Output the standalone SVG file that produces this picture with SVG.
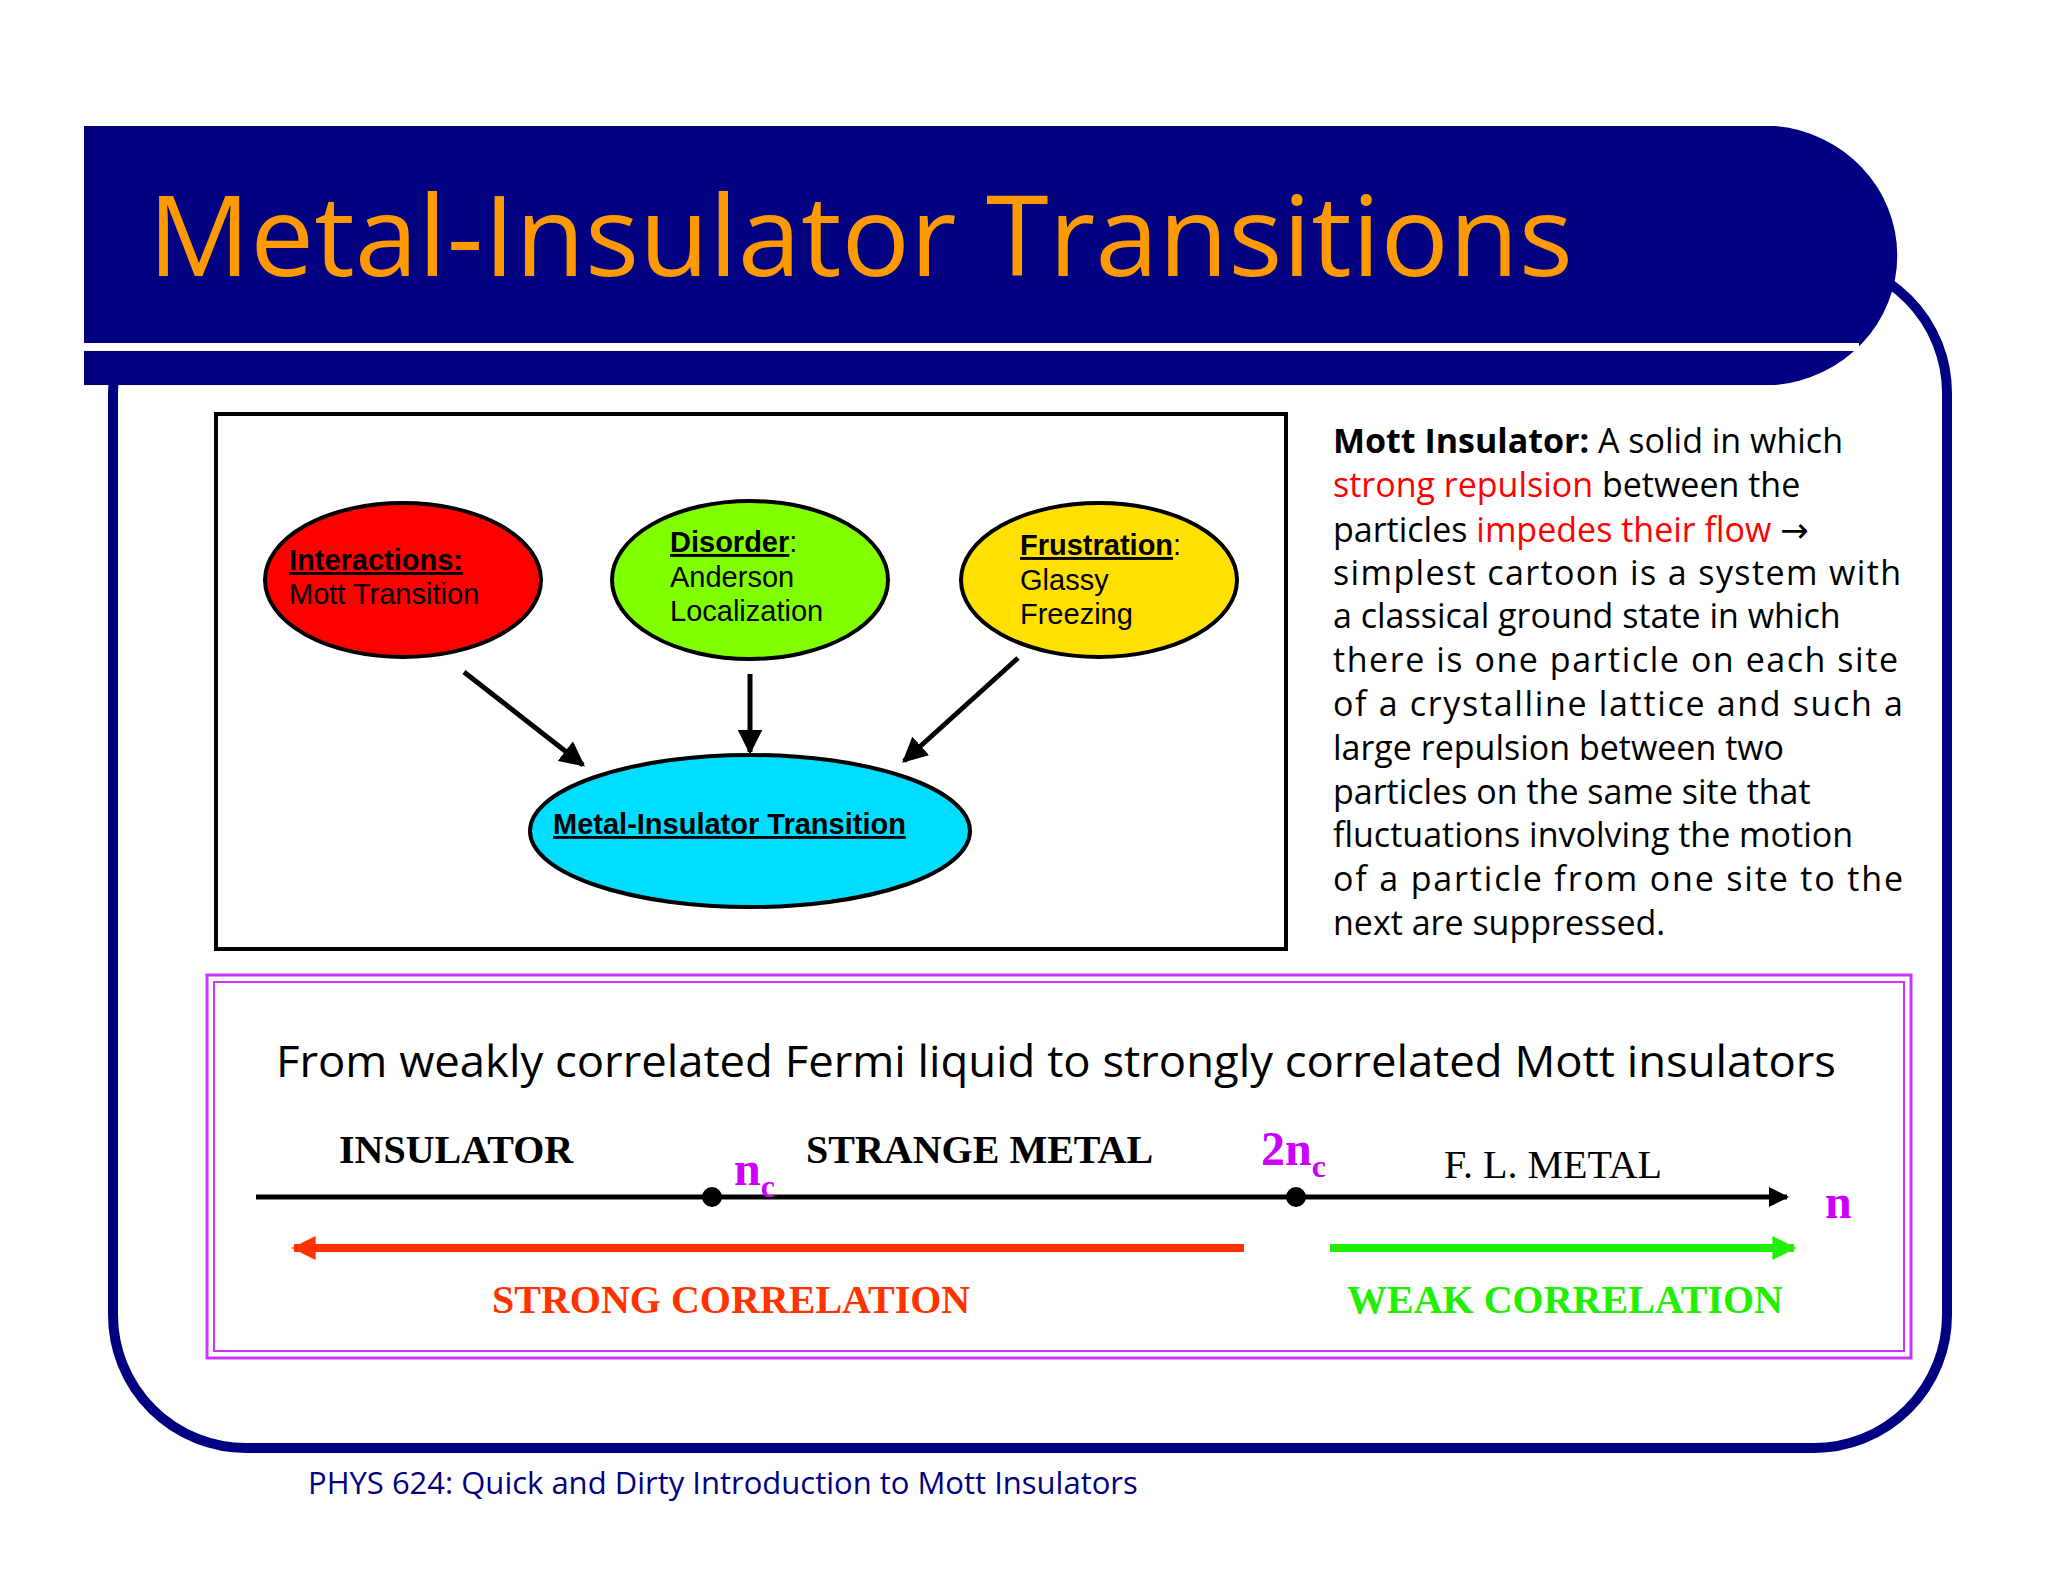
<svg xmlns="http://www.w3.org/2000/svg" width="2048" height="1582" viewBox="0 0 2048 1582">
<defs>
<marker id="ah" viewBox="0 0 10 10" refX="9" refY="5" markerWidth="5" markerHeight="5" orient="auto"><path d="M0,0 L10,5 L0,10 Z" fill="#000"/></marker>
<marker id="ahs" viewBox="0 0 10 10" refX="9" refY="5" markerWidth="4" markerHeight="4" orient="auto"><path d="M0,0 L10,5 L0,10 Z" fill="#000"/></marker>
<marker id="ahr" viewBox="0 0 10 10" refX="9" refY="5" markerWidth="3" markerHeight="3" orient="auto"><path d="M0,0 L10,5 L0,10 Z" fill="#ff3300"/></marker>
<marker id="ahg" viewBox="0 0 10 10" refX="9" refY="5" markerWidth="3" markerHeight="3" orient="auto"><path d="M0,0 L10,5 L0,10 Z" fill="#22ee00"/></marker>
</defs>
<style>
.sf{font-family:"Liberation Sans",Arial,sans-serif;font-size:29px;fill:#000}
.b{font-weight:bold;text-decoration:underline}
.p{font-family:"Open Sans","DejaVu Sans",sans-serif;font-size:34px;fill:#000}
.r{fill:#ff0000}
.tm{font-family:"Liberation Serif","Times New Roman",serif;font-size:40px;font-weight:bold;fill:#000}
.mg{font-family:"Liberation Serif",serif;font-weight:bold;fill:#cc00ff}
.el{stroke:#000;stroke-width:4}
</style>
<rect width="2048" height="1582" fill="#fff"/>
<rect x="113" y="260" width="1834" height="1188" rx="133" fill="#fff" stroke="#000080" stroke-width="10"/>
<path d="M84,126 H1775 A134,130 0 0 1 1775,385 H84 Z" fill="#000080"/>
<rect x="84" y="343" width="1775" height="8" fill="#fff"/>
<text x="148" y="276" font-family="Open Sans, sans-serif" font-size="112" fill="#ff9900" textLength="1425" lengthAdjust="spacingAndGlyphs">Metal-Insulator Transitions</text>

<g id="box"><rect x="216" y="414" width="1070" height="535" fill="#fff" stroke="#000" stroke-width="4"/></g>
<g id="interactions"><ellipse cx="403" cy="580" rx="138" ry="77" fill="#ff0000" class="el"/>
<text x="289" y="570" class="sf b">Interactions:</text><text x="289" y="604" class="sf">Mott Transition</text></g>
<g id="disorder"><ellipse cx="750" cy="580" rx="138" ry="79" fill="#80ff00" class="el"/>
<text x="670" y="552" class="sf"><tspan class="b">Disorder</tspan>:</text><text x="670" y="587" class="sf">Anderson</text><text x="670" y="621" class="sf">Localization</text></g>
<g id="frustration"><ellipse cx="1099" cy="580" rx="138" ry="77" fill="#ffe000" class="el"/>
<text x="1020" y="555" class="sf"><tspan class="b">Frustration</tspan>:</text><text x="1020" y="590" class="sf">Glassy</text><text x="1020" y="624" class="sf">Freezing</text></g>
<g id="mit"><ellipse cx="750" cy="831" rx="220" ry="76" fill="#00ddff" class="el"/>
<text x="553" y="834" class="sf b">Metal-Insulator Transition</text></g>
<g id="connectors" stroke="#000" stroke-width="5" fill="none">
<line x1="464" y1="672" x2="583" y2="765" marker-end="url(#ah)"/>
<line x1="750" y1="674" x2="750" y2="752" marker-end="url(#ah)"/>
<line x1="1018" y1="658" x2="904" y2="761" marker-end="url(#ah)"/>
</g>

<g id="para" class="p">
<text x="1333" y="453"><tspan font-weight="bold">Mott Insulator:</tspan> A solid in which</text>
<text x="1333" y="497"><tspan class="r">strong repulsion</tspan> between the</text>
<text x="1333" y="542">particles <tspan class="r">impedes their flow</tspan> →</text>
<text x="1333" y="585" textLength="568">simplest cartoon is a system with</text>
<text x="1333" y="628">a classical ground state in which</text>
<text x="1333" y="672" textLength="565">there is one particle on each site</text>
<text x="1333" y="716" textLength="570">of a crystalline lattice and such a</text>
<text x="1333" y="760">large repulsion between two</text>
<text x="1333" y="804">particles on the same site that</text>
<text x="1333" y="847">fluctuations involving the motion</text>
<text x="1333" y="891" textLength="570">of a particle from one site to the</text>
<text x="1333" y="935">next are suppressed.</text>
</g>

<g id="bottom">
<rect x="207" y="975" width="1704" height="383" fill="none" stroke="#cc33ff" stroke-width="3"/>
<rect x="214" y="982" width="1690" height="369" fill="none" stroke="#cc33ff" stroke-width="2"/>
<text x="276" y="1077" font-family="Open Sans, sans-serif" font-size="43" fill="#000" textLength="1560" lengthAdjust="spacingAndGlyphs">From weakly correlated Fermi liquid to strongly correlated Mott insulators</text>
<line x1="256" y1="1197" x2="1787" y2="1197" stroke="#000" stroke-width="5" marker-end="url(#ahs)"/>
<circle cx="712" cy="1197" r="10" fill="#000"/><circle cx="1296" cy="1197" r="10" fill="#000"/>
<text x="339" y="1163" class="tm">INSULATOR</text>
<text x="806" y="1163" class="tm">STRANGE METAL</text>
<text x="1444" y="1178" font-family="Liberation Serif, serif" font-size="40" fill="#000">F. L.  METAL</text>
<text x="1261" y="1165" class="mg" font-size="48">2n<tspan font-size="32" dy="12">c</tspan></text>
<text x="734" y="1185" class="mg" font-size="48">n<tspan font-size="32" dy="12">c</tspan></text>
<text x="1825" y="1218" class="mg" font-size="48">n</text>
<line x1="1244" y1="1248" x2="294" y2="1248" stroke="#ff3300" stroke-width="8" marker-end="url(#ahr)"/>
<line x1="1330" y1="1248" x2="1794" y2="1248" stroke="#22ee00" stroke-width="8" marker-end="url(#ahg)"/>
<text x="492" y="1313" class="tm" fill="#ff3300" style="fill:#ff3300">STRONG CORRELATION</text>
<text x="1347" y="1313" class="tm" style="fill:#22ee00">WEAK CORRELATION</text>
</g>
<text x="308" y="1494" font-family="Open Sans, sans-serif" font-size="31" fill="#000080">PHYS 624: Quick and Dirty Introduction to Mott Insulators</text>
</svg>
